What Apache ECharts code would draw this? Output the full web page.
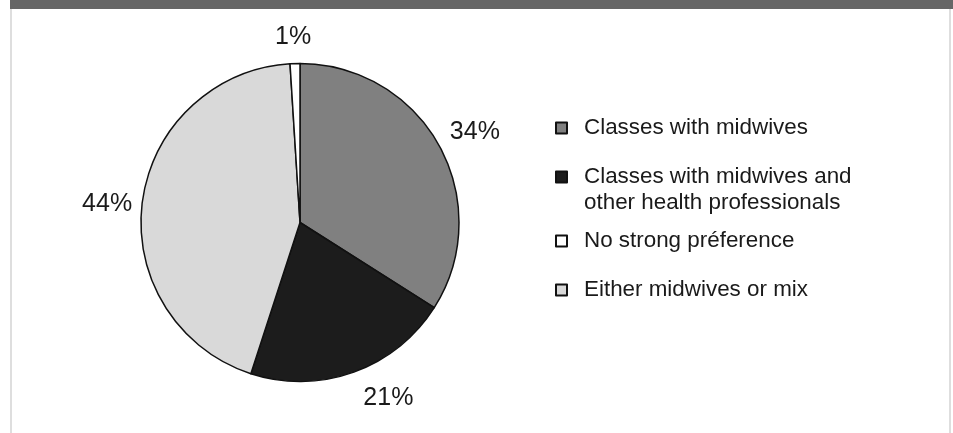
<!DOCTYPE html>
<html>
<head>
<meta charset="utf-8">
<script src="https://cdn.jsdelivr.net/npm/echarts@6/dist/echarts.min.js"></script>
<style>
  html, body { margin: 0; padding: 0; background: #fff; }
  #chart { width: 953px; height: 433px; }
</style>
</head>
<body>
<div id="chart"></div>
<script>
var categories = [
    'Classes with midwives',
    'Classes with midwives and other health professionals',
    'No strong préference',
    'Either midwives or mix'
];
var values = [34, 21, 1, 44];
// clockwise order of the slices from 12 o'clock
var sliceOrder = [0, 1, 3, 2];
var colors = ['#808080', '#1c1c1c', '#ffffff', '#d9d9d9'];

// label placement per category: radial length, horizontal length, distance
var labelPlace = [
    [28, 0, -14],
    [28, 0, 0],
    [26, 0, -17],
    [-15, 25, 0]
];
// legend row centres (y) for each category
var legendRows = [128, 177, 241, 290];

var chart = echarts.init(document.getElementById('chart'));

var pieData = sliceOrder.map(function (i) {
    return {
        name: categories[i],
        value: values[i],
        itemStyle: { color: colors[i] },
        labelLine: { show: false, length: labelPlace[i][0], length2: labelPlace[i][1] },
        label: { distanceToLabelLine: labelPlace[i][2] }
    };
});

var legends = categories.map(function (name, i) {
    var twoLine = name.indexOf('and other') >= 0;
    return {
        data: [name],
        left: 555,
        top: twoLine ? legendRows[i] - 39 : legendRows[i] - 13,
        padding: 0,
        icon: 'rect',
        itemWidth: 11,
        itemHeight: 11,
        selectedMode: false,
        formatter: function (n) {
            // blank first line keeps the first text line level with the marker
            return twoLine ? ' \nClasses with midwives and\nother health professionals' : n;
        },
        textStyle: {
            fontFamily: 'Liberation Sans, Arial, sans-serif',
            fontSize: 22.4,
            lineHeight: 26,
            color: '#1a1a1a',
            padding: [0, 0, 0, 12]
        }
    };
});

var option = {
    backgroundColor: '#ffffff',
    animation: false,
    legend: legends,
    graphic: [
        { type: 'rect', shape: { x: 10, y: 0, width: 943, height: 9 }, style: { fill: '#666666' } },
        { type: 'rect', shape: { x: 10, y: 9, width: 2, height: 424 }, style: { fill: '#dedede' } },
        { type: 'rect', shape: { x: 949, y: 9, width: 2, height: 424 }, style: { fill: '#dedede' } }
    ],
    series: [{
        type: 'pie',
        center: [300, 222.5],
        radius: 159,
        startAngle: 90,
        clockwise: true,
        avoidLabelOverlap: false,
        itemStyle: { borderColor: '#111111', borderWidth: 1.5 },
        emphasis: { disabled: true },
        label: {
            show: true,
            position: 'outside',
            formatter: '{c}%',
            fontFamily: 'Liberation Sans, Arial, sans-serif',
            fontSize: 25,
            color: '#1a1a1a'
        },
        data: pieData
    }]
};

chart.setOption(option);
</script>
</body>
</html>
